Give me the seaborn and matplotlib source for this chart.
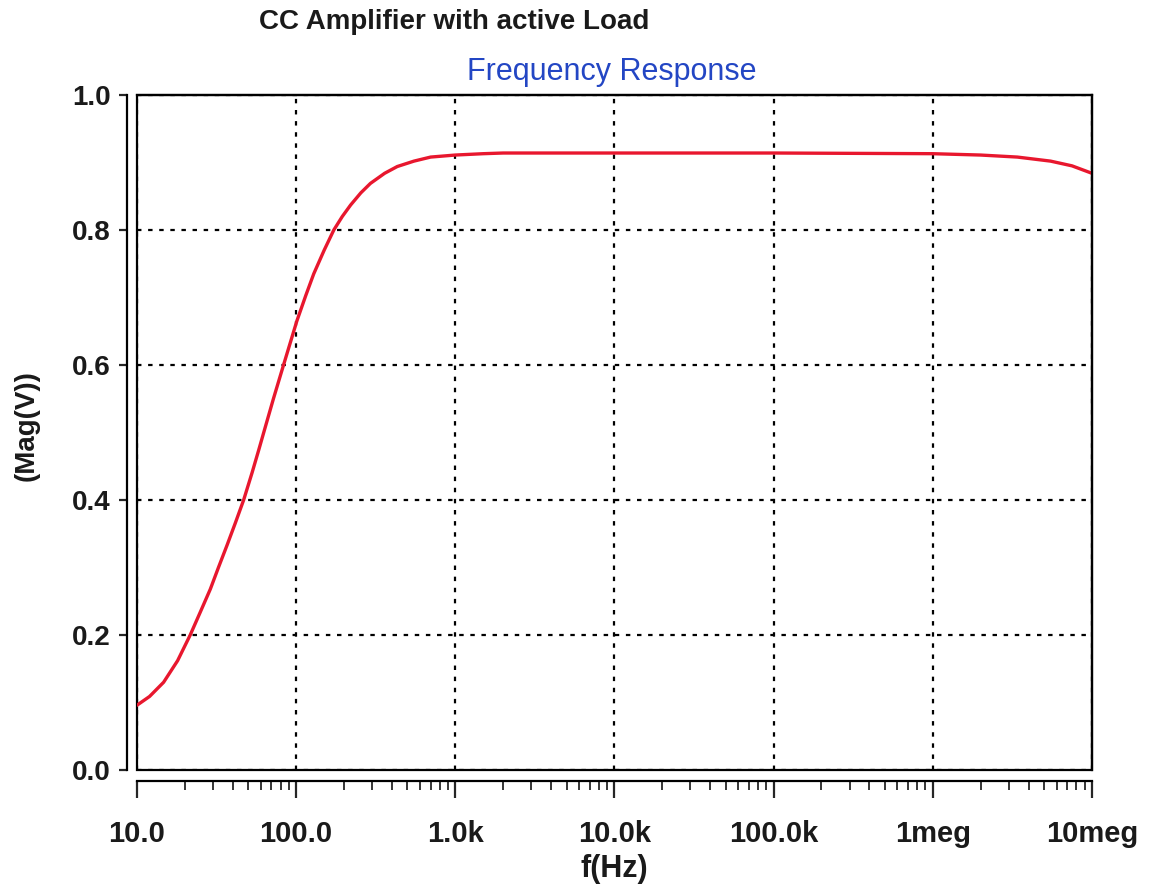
import matplotlib
matplotlib.use("Agg")
import matplotlib.pyplot as plt
import matplotlib.ticker as mticker
from matplotlib.patches import Rectangle
import seaborn as sns
import pandas as pd

# values
freq = [10, 12, 14.7, 18, 21.6, 25, 28.9, 32.5, 36.8, 41.5, 46.8, 52.8, 58.2,
        64, 72, 83.6, 101, 115, 129, 150, 172.5, 195, 220, 255, 293, 360, 432,
        550, 700, 1000, 1500, 2000, 10e3, 100e3, 1e6, 2e6, 3.4e6, 5.5e6, 7.5e6,
        10e6]
mag = [0.096, 0.109, 0.13, 0.162, 0.2, 0.234, 0.268, 0.3, 0.333, 0.366, 0.4,
       0.44, 0.474, 0.508, 0.55, 0.601, 0.665, 0.703, 0.735, 0.77, 0.8, 0.82,
       0.837, 0.855, 0.869, 0.884, 0.894, 0.902, 0.908, 0.911, 0.913, 0.914,
       0.914, 0.914, 0.913, 0.911, 0.908, 0.902, 0.895, 0.884]

xticks = [10, 100, 1e3, 1e4, 1e5, 1e6, 1e7]
xticklabels = ['10.0', '100.0', '1.0k', '10.0k', '100.0k', '1meg', '10meg']
yticks = [0.0, 0.2, 0.4, 0.6, 0.8, 1.0]
yticklabels = ['0.0', '0.2', '0.4', '0.6', '0.8', '1.0']

df = pd.DataFrame({'f': freq, 'mag': mag})

sns.set_style("white")
plt.rcParams['font.family'] = ['Liberation Sans', 'DejaVu Sans']

fig, ax = plt.subplots(figsize=(11.53, 8.90), dpi=100)
fig.subplots_adjust(left=0.1188, right=0.947, bottom=0.1348, top=0.8933)

ax.set_xscale('log')
sns.lineplot(data=df, x='f', y='mag', ax=ax, color='#e8172e', linewidth=2.4,
             solid_joinstyle='round', solid_capstyle='round')

ax.set_xlim(10, 1e7)
ax.set_ylim(0, 1)

# dotted grid
ax.grid(True, which='major', color='black', linestyle=(0, (2, 3)), linewidth=1.6)

# offset axis lines plus the plot box
for s in ['top', 'right', 'left', 'bottom']:
    ax.spines[s].set_visible(True)
    ax.spines[s].set_color('black')
    ax.spines[s].set_linewidth(1.6)
ax.spines['left'].set_position(('outward', 7))
ax.spines['bottom'].set_position(('outward', 8))
ax.add_patch(Rectangle((0, 0), 1, 1, transform=ax.transAxes, fill=False,
                       edgecolor='black', linewidth=1.6, clip_on=False))

ax.set_xticks(xticks)
ax.set_xticklabels(xticklabels)
ax.xaxis.set_minor_locator(mticker.LogLocator(base=10, subs=range(2, 10)))
ax.xaxis.set_minor_formatter(mticker.NullFormatter())
ax.set_yticks(yticks)
ax.set_yticklabels(yticklabels)

ax.tick_params(axis='x', which='major', direction='out', length=12, width=1.6,
               bottom=True, pad=16, labelsize=21)
ax.tick_params(axis='x', which='minor', direction='out', length=6.5, width=1.3,
               bottom=True)
ax.tick_params(axis='y', which='major', direction='out', length=6, width=1.6,
               left=True, pad=6, labelsize=20)
for lab in ax.get_xticklabels() + ax.get_yticklabels():
    lab.set_fontweight('bold')
    lab.set_color('#1a1a1a')

ax.set_xlabel('f(Hz)', fontsize=22, fontweight='bold', color='#1a1a1a')
ax.set_ylabel('(Mag(V))', fontsize=20, fontweight='bold', color='#1a1a1a')
ax.xaxis.set_label_coords(0.5, -0.124)
ax.yaxis.set_label_coords(-0.102, 0.51)

fig.text(0.394, 0.975, 'CC Amplifier with active Load', fontsize=20,
         fontweight='bold', ha='center', va='center', color='#1a1a1a')
fig.text(0.531, 0.919, 'Frequency Response', fontsize=22,
         ha='center', va='center', color='#2346c4')

fig.savefig('out.png', dpi=100)
